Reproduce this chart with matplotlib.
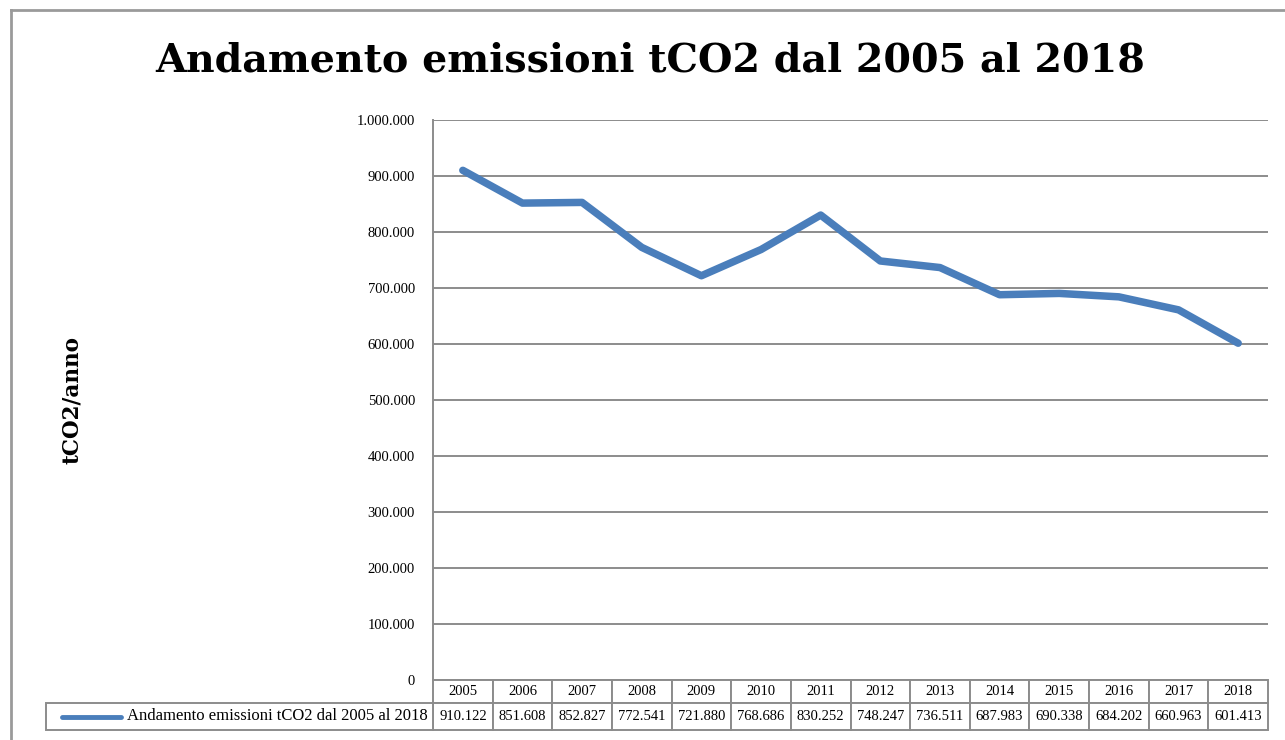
import numpy as np
import matplotlib
matplotlib.use('Agg')
import matplotlib.pyplot as plt
from matplotlib.ticker import FuncFormatter, MultipleLocator
from matplotlib.lines import Line2D
from matplotlib.patches import Rectangle

years = ['2005', '2006', '2007', '2008', '2009', '2010', '2011',
         '2012', '2013', '2014', '2015', '2016', '2017', '2018']
emissions = [910122, 851608, 852827, 772541, 721880, 768686, 830252,
             748247, 736511, 687983, 690338, 684202, 660963, 601413]
seriesName = 'Andamento emissioni tCO2 dal 2005 al 2018'
titleText = 'Andamento emissioni tCO2 dal 2005 al 2018'
yLabel = 'tCO2/anno'

lineColor = '#4a7ebb'
gridColor = '#8c8c8c'
W, H = 1285, 740


def dotThousands(v, pos=None):
    if v == 0:
        return '0'
    return '{:,.0f}'.format(v).replace(',', '.')


fig = plt.figure(figsize=(W / 100, H / 100), dpi=100)
fig.patch.set_facecolor('white')

# outer chart frame
frameKw = dict(color='#9a9a9a', linewidth=2, transform=fig.transFigure)
fig.add_artist(Line2D([11 / W, 11 / W], [0, 1 - 10 / H], **frameKw))
fig.add_artist(Line2D([11 / W, 1], [1 - 10 / H, 1 - 10 / H], **frameKw))

axL, axR, axT, axB = 433, 1268, 120, 680
ax = fig.add_axes([axL / W, 1 - axB / H, (axR - axL) / W, (axB - axT) / H])

x = np.arange(len(years))
ax.plot(x, emissions, color=lineColor, linewidth=5.4,
        solid_joinstyle='round', solid_capstyle='round', zorder=3)

ax.set_xlim(-0.5, len(years) - 0.5)
ax.set_ylim(0, 1000000)
ax.yaxis.set_major_locator(MultipleLocator(100000))
ax.yaxis.set_major_formatter(FuncFormatter(dotThousands))
ax.set_xticks([])
ax.tick_params(axis='y', length=0, pad=13, labelsize=10.5)
for lbl in ax.get_yticklabels():
    lbl.set_family('Liberation Serif')
ax.grid(axis='y', color=gridColor, linewidth=1.4)
ax.set_axisbelow(True)
for side in ['top', 'right', 'bottom']:
    ax.spines[side].set_visible(False)
ax.spines['left'].set_color(gridColor)
ax.spines['left'].set_linewidth(1.4)

# data table below the plot (drawn in axes fraction coords)
plotW = axR - axL
plotH = axB - axT
colW = 1 / len(years)
hdrTop, hdrBot = 0, -23 / plotH
rowBot = -50 / plotH
labelLeft = (46 - axL) / plotW
cellKw = dict(transform=ax.transAxes, clip_on=False, facecolor='white',
              edgecolor=gridColor, linewidth=1.4)
txtKw = dict(transform=ax.transAxes, ha='center', va='center',
             family='Liberation Serif', fontsize=10.5, clip_on=False)

for i, (yr, val) in enumerate(zip(years, emissions)):
    x0 = i * colW
    ax.add_patch(Rectangle((x0, hdrBot), colW, hdrTop - hdrBot, **cellKw))
    ax.add_patch(Rectangle((x0, rowBot), colW, hdrBot - rowBot, **cellKw))
    ax.text(x0 + colW / 2, (hdrTop + hdrBot) / 2, yr, **txtKw)
    ax.text(x0 + colW / 2, (hdrBot + rowBot) / 2, dotThousands(val), **txtKw)

ax.add_patch(Rectangle((labelLeft, rowBot), -labelLeft, hdrBot - rowBot, **cellKw))
legY = (hdrBot + rowBot) / 2
ax.add_line(Line2D([(62 - axL) / plotW, (121 - axL) / plotW], [legY, legY],
                   color=lineColor, linewidth=3.5, solid_capstyle='round',
                   transform=ax.transAxes, clip_on=False))
ax.text((428 - axL) / plotW, legY, seriesName, transform=ax.transAxes,
        ha='right', va='center', family='Liberation Serif', fontsize=12,
        clip_on=False)

fig.text(0.5 + 8 / W, 1 - 61 / H, titleText, ha='center', va='center',
         fontsize=28.5, fontweight='bold', family='DejaVu Serif')
fig.text(72 / W, 1 - 400 / H, yLabel, ha='center', va='center',
         rotation=90, fontsize=15.5, fontweight='bold', family='DejaVu Serif')

fig.savefig('out.png', dpi=100, facecolor='white')
